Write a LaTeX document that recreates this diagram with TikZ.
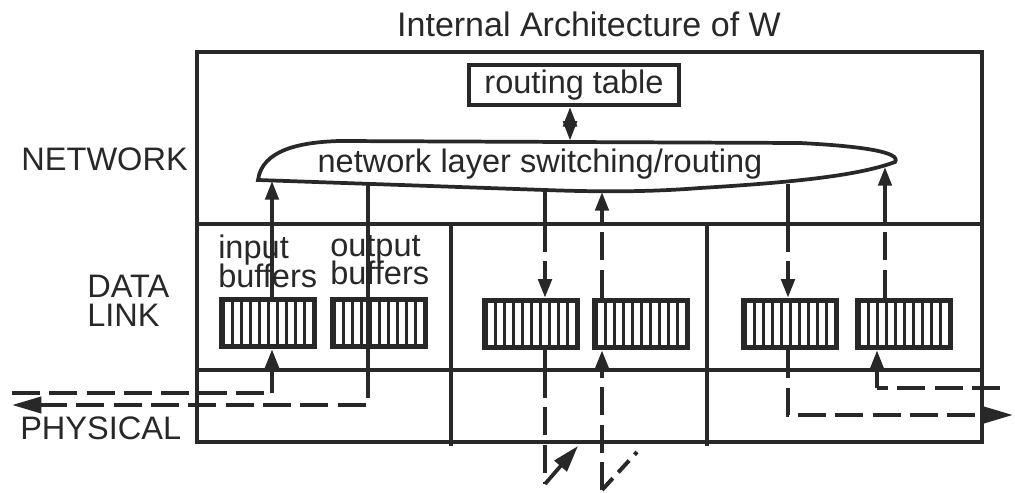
\documentclass[tikz,border=0pt]{standalone}
\usepackage{fontspec}
\setmainfont{Liberation Sans}
\usetikzlibrary{arrows.meta}
\definecolor{ink}{RGB}{40,40,40}
\newcommand{\tightlines}{\lineskiplimit=-40pt\relax}
\begin{document}
\begin{tikzpicture}[x=0.75pt,y=-0.75pt,
  font=\fontsize{24.4}{28}\selectfont,
  lbl/.style={inner sep=0,text=ink},
  two/.style={lbl,align=left,font={\fontsize{24.4}{21.5}\selectfont\tightlines}},
  frame/.style={draw=ink,line width=2.7pt},
  ln/.style={draw=ink,line width=2.8pt},
  dsh/.style={ln,line width=3pt,dash pattern=on 21pt off 7pt},
  tip/.style={-{Triangle[length=14pt,width=10pt]}},
  bigtip/.style={-{Triangle[length=22pt,width=12pt]}},
  buf/.style={rectangle,fill=ink,minimum width=73.5pt,minimum height=39pt,inner sep=0pt,
    path picture={\foreach \i in {0,...,9}{\fill[white] ({-43+9*\i},-21) rectangle ({-37+9*\i},21);}}}
]
\useasboundingbox (0,0) rectangle (1015,493);
\fill[white] (0,0) rectangle (1015,493);

% title
\node[lbl,font=\fontsize{25.5}{28}\selectfont] (title) at (589,24) {Internal Architecture of W};

% frame and layers
\coordinate (tl) at (197,52);
\coordinate (br) at (982,442);
\draw[frame] (tl) rectangle (br);
\coordinate (nl) at (197,224);
\coordinate (nr) at (982,224);
\coordinate (pl) at (197,370);
\coordinate (pr) at (982,370);
\draw[frame] (nl) -- (nr);
\draw[frame,line width=3.4pt] (pl) -- (pr);
\coordinate (d1t) at (451,224);
\coordinate (d1b) at (451,446);
\coordinate (d2t) at (707,224);
\coordinate (d2b) at (707,446);
\draw[frame] (d1t) -- (d1b);
\draw[frame] (d2t) -- (d2b);

% layer labels
\node[lbl,anchor=base east] (netl) at (188,170) {NETWORK};
\node[two,anchor=north west] (dll) at (87,275) {DATA\\LINK};
\node[lbl,anchor=base west] (phyl) at (20,439) {PHYSICAL};

% routing table
\node[lbl,draw=ink,line width=2.4pt,minimum width=157.5pt,minimum height=30pt] (rt) at (574,85) {routing table};

% network layer switching shape
\draw[ln] (258,180) .. controls (262,150) and (300,142) .. (340,141) -- (800,143)
  .. controls (860,146) and (902,152) .. (895,162)
  .. controls (860,175) and (800,182) .. (700,188)
  .. controls (650,192) and (600,192) .. (545,190) -- cycle;
\node[lbl,anchor=base] (nls) at (540,172) {network layer switching/routing};
\coordinate (etop) at (570,141);
\draw[ln,line width=3.4pt,{Triangle[length=15pt,width=10pt]}-{Triangle[length=15pt,width=10pt]}] (rt.south -| etop) -- (etop);

% ellipse bottom attachment points
\coordinate (e1) at (272,181);
\coordinate (e2) at (368,185);
\coordinate (e3) at (545,190);
\coordinate (e4) at (602,192);
\coordinate (e5) at (788,184);
\coordinate (e6) at (885,167);

% buffers
\node[buf] (ib) at (268,323) {};
\node[buf] (ob) at (379,323) {};
\node[buf] (m1) at (531,324) {};
\node[buf] (m2) at (641,324) {};
\node[buf] (r1) at (790,324) {};
\node[buf] (r2) at (904,324) {};

% buffer labels
\node[two,anchor=north west] (inl) at (218,235) {input\\buffers};
\node[two,anchor=north west] (outl) at (330,235) {output\\buffers};

% left section
\draw[ln,tip] (ib.north -| e1) -- (e1);
\coordinate (p1) at (272,393);
\coordinate (L1) at (12,393);
\draw[dsh] (L1) -- (p1);
\draw[ln,tip] (p1) -- (ib.south -| p1);
\coordinate (p2) at (368,405);
\coordinate (L2) at (12,405);
\draw[ln] (e2) -- (e2 |- pl);
\draw[dsh,bigtip] (e2 |- pl) -- (p2) -- (L2);

% middle section
\draw[ln] (e3) -- (e3 |- nl);
\draw[dsh,tip] (e3 |- nl) -- (m1.north -| e3);
\draw[ln] (m1.south -| e3) -- (e3 |- pl);
\coordinate (v1) at (545,484);
\coordinate (v1e) at (578,446);
\draw[dsh] (e3 |- pl) -- (v1);
\draw[ln,-{Triangle[length=20pt,width=12pt]}] (v1) -- (v1e);
\draw[dsh] (m2.north -| e4) -- (e4 |- nl);
\draw[ln,tip] (e4 |- nl) -- (e4);
\coordinate (v2) at (602,490);
\coordinate (v2e) at (637,452);
\draw[dsh,tip] (v2) -- (m2.south -| v2);
\draw[dsh,dash pattern=on 12pt off 6pt] (v2) -- (v2e);

% right section
\draw[ln] (e5) -- (e5 |- nl);
\draw[dsh,tip] (e5 |- nl) -- (r1.north -| e5);
\coordinate (q1) at (788,415);
\coordinate (q1r) at (1013,415);
\draw[dsh,bigtip] (r1.south -| e5) -- (q1) -- (q1r);
\draw[dsh] (r2.north -| e6) -- (e6 |- nl);
\draw[ln,tip] (e6 |- nl) -- (e6);
\coordinate (q2) at (877,388);
\coordinate (q2r) at (1000,388);
\draw[dsh] (q2r) -- (q2);
\draw[ln,tip] (q2) -- (r2.south -| q2);
\end{tikzpicture}
\end{document}
